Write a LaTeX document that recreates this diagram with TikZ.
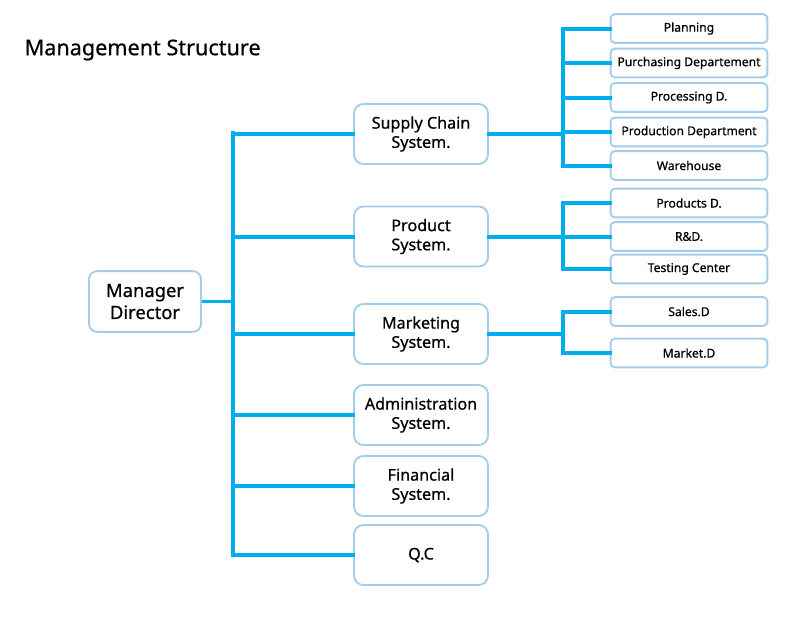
\documentclass[tikz,border=0pt]{standalone}
\usepackage{fontspec}
\setmainfont{Noto Sans}[FakeBold=0.6]
\usetikzlibrary{positioning,calc}
\definecolor{trait}{HTML}{00AEEF}
\definecolor{bord}{HTML}{A3CDEB}

\begin{document}
\begin{tikzpicture}[x=0.75pt,y=-0.75pt]
%styles : boites et traits de l'organigramme
\tikzset{boite/.style={draw=bord,line width=1.4pt,fill=white,align=center,inner sep=0pt},
systeme/.style={boite,rounded corners=7pt,minimum width=100.5pt,minimum height=45pt,font=\fontsize{12.1}{14.4}\selectfont},
service/.style={boite,rounded corners=3pt,minimum width=117.5pt,minimum height=21.5pt,font=\fontsize{9.1}{10}\selectfont},
lien/.style={trait,line width=3pt,line cap=rect}}
\useasboundingbox (0,0) rectangle (802,636);

\node[anchor=west,font=\fontsize{16.2}{18}\selectfont] (titre) at (20,50) {Management Structure};

%direction
\node[boite,rounded corners=6pt,minimum width=84pt,minimum height=45.5pt,font=\fontsize{13.8}{16.5}\selectfont] (md) at (145,301.5) {Manager\\Director};

%systemes
\node[systeme] (sc) at (421,134) {Supply Chain\\System.};
\node[systeme] (pr) at (421,236.5) {Product\\System.};
\node[systeme] (mk) at (421,334) {Marketing\\System.};
\node[systeme] (ad) at (421,415) {Administration\\System.};
\node[systeme] (fi) at (421,486) {Financial\\System.};
\node[systeme] (qc) at (421,555) {Q.C};

%services
\node[service] (plan) at (689,28.5) {Planning};
\node[service] (achat) at (689,63) {Purchasing Departement};
\node[service] (trans) at (689,97.5) {Processing D.};
\node[service] (prod) at (689,132) {Production Department};
\node[service] (entr) at (689,165.5) {Warehouse};
\node[service] (prods) at (689,203) {Products D.};
\node[service] (rd) at (689,236.5) {R\&D.};
\node[service] (test) at (689,269) {Testing Center};
\node[service] (vente) at (689,311.5) {Sales.D};
\node[service] (march) at (689,353) {Market.D};

%tronc principal
\coordinate (tronc) at (233,133);
\coordinate (tronc bas) at (233,555);
\coordinate (st) at (563,0);
\draw[lien] (tronc) -- (tronc bas);
\draw[trait,line width=2.3pt] (md.east) -- (tronc |- md.east);
\foreach \s in {sc,pr,mk,ad,fi,qc}
  \draw[lien] (tronc |- \s.west) -- (\s.west);

%sous-troncs
\draw[lien] (sc.east) -- (st |- sc.east);
\draw[lien] (st |- plan.west) -- (st |- entr.west);
\foreach \s in {plan,achat,trans,prod,entr}
  \draw[lien] (st |- \s.west) -- (\s.west);
\draw[lien] (pr.east) -- (st |- pr.east);
\draw[lien] (st |- prods.west) -- (st |- test.west);
\foreach \s in {prods,rd,test}
  \draw[lien] (st |- \s.west) -- (\s.west);
\draw[lien] (mk.east) -- (st |- mk.east);
\draw[lien] (st |- vente.west) -- (st |- march.west);
\foreach \s in {vente,march}
  \draw[lien] (st |- \s.west) -- (\s.west);
\end{tikzpicture}
\end{document}
